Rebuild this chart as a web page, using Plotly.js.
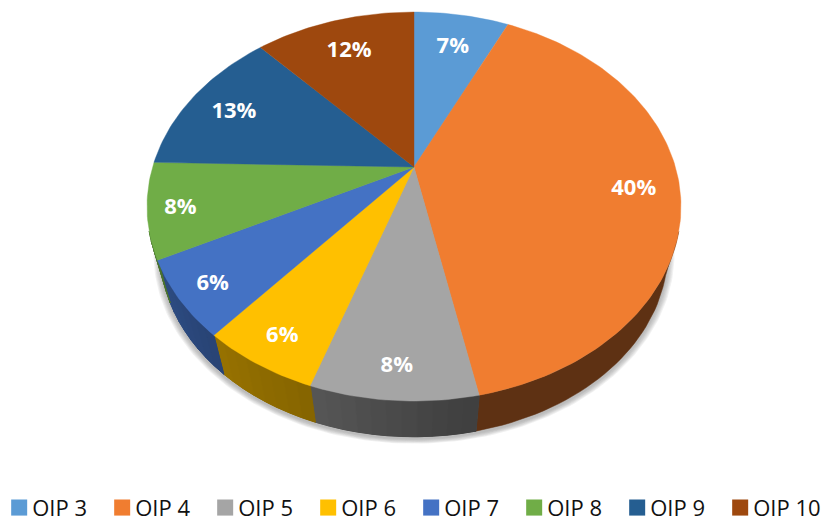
<!DOCTYPE html>
<html>
<head>
<meta charset="utf-8">
<script src="https://cdn.plot.ly/plotly-3.0.1.min.js"></script>
<style>html,body{margin:0;padding:0;background:#fff}#chart{width:824px;height:522px}</style>
</head>
<body>
<div id="chart"></div>
<script>
const categories = ['OIP 3','OIP 4','OIP 5','OIP 6','OIP 7','OIP 8','OIP 9','OIP 10'];
const shares = [7, 39.8, 8.4, 6, 6.3, 7.9, 12.8, 11.8];
const colors = ['#5b9bd5','#f07d30','#a5a5a5','#ffc000','#4472c4','#70ad47','#255e91','#9e480e'];

// Projection of the tilted disc, in pixels
const apex = {x:414, y:167}, A = 261.4, B = 186.5, K = 0.2033;
const project = (th, r) => {
  const u = r*Math.sin(th), v = r*Math.cos(th), w = 1 + K*v;
  return [apex.x + A*u/w, apex.y - B*v/w];
};
const lower = p => [apex.x + 0.95*(p[0]-apex.x), 55.7 + 0.95*p[1]];
const TAU = 2*Math.PI;
const total = shares.reduce((a,b)=>a+b,0);
let acc = 0;
const spans = shares.map(s => { const a = acc/total*TAU; acc += s; return [a, acc/total*TAU]; });
const arc = (a,b,step=0.02) => { const n = Math.max(2,Math.ceil((b-a)/step)), o=[]; for(let i=0;i<=n;i++) o.push(a+(b-a)*i/n); return o; };
const shadeAt = th => th < 3.0 ? 0.39 : th < 3.456 ? 0.39+(th-3)*0.285 : Math.min(0.66, 0.52+(th-3.456)*0.19);
const dark = (hex,f) => { const n=parseInt(hex.slice(1),16); return `rgb(${Math.round((n>>16)*f)},${Math.round(((n>>8)&255)*f)},${Math.round((n&255)*f)})`; };
const poly = (pts,col,lw,extra) => Object.assign({type:'scatter',mode:'lines',fill:'toself',fillcolor:col,
  line:{width:lw,color:col},x:pts.map(p=>p[0]),y:pts.map(p=>p[1]),showlegend:false,hoverinfo:'skip'},extra||{});

const traces = [];
// soft shadow below the rim
for (let i=0;i<6;i++){
  const pts = arc(0,TAU).map(t=>lower(project(t,1)));
  const s = 1 + (6-i)*0.0045, cx=apex.x, cy=253;
  traces.push(poly(pts.map(p=>[cx+(p[0]-cx)*s, cy+(p[1]-cy)*s+2]),'rgba(120,120,120,0.10)',0));
}
// rim: only the part that can show, a base band per slice, then shaded strips where the shade changes
const rimFrom = 1.9, rimTo = TAU-1.9;
spans.forEach((sp,i)=>{
  const from = Math.max(sp[0],rimFrom), to = Math.min(sp[1],rimTo);
  if (to <= from) return;
  const ts = arc(from,to,0.03);
  const mid = (from+to)/2;
  const band = [...ts.map(t=>project(t,1)),...ts.slice().reverse().map(t=>lower(project(t,1)))];
  traces.push(poly([...band,band[0]],dark(colors[i],shadeAt(mid)),0.5));
  if (to > 3.0 && from < 4.9) {
    const st = arc(Math.max(from,2.8),Math.min(to,4.9),0.05);
    for(let j=0;j<st.length-1;j++){
      const a=project(st[j],1), b=project(st[j+1],1), c=lower(b), d=lower(a);
      traces.push(poly([a,b,c,d,a],dark(colors[i],shadeAt((st[j]+st[j+1])/2)),1));
    }
  }
});
// top faces
spans.forEach((sp,i)=>{
  const pts=[project(0,0),...arc(sp[0],sp[1]).map(t=>project(t,1)),project(0,0)];
  traces.push(poly(pts,colors[i],0.4,{name:categories[i],hoverinfo:'name+text',text:Math.round(shares[i])+'%'}));
});
// value labels
const mids = spans.map(s=>(s[0]+s[1])/2);
const labelRadius = t => 0.825-0.04*Math.cos(t) + (Math.cos(t)<0 && Math.sin(t)<0 ? 0.05*Math.pow(-Math.sin(t),3) : 0);
const lab = mids.map(t=>project(t,labelRadius(t)));
traces.push({type:'scatter',mode:'text',x:lab.map(p=>p[0]),y:lab.map(p=>p[1]+4),
  text:shares.map(s=>Math.round(s)+'%'),textposition:'middle center',
  textfont:{family:'"Open Sans", sans-serif',size:22,color:'#fff',weight:700},showlegend:false,hoverinfo:'skip'});
// legend entries
categories.forEach((c,i)=>traces.push({type:'scatter',mode:'markers',x:[null],y:[null],name:c,
  marker:{symbol:'square',size:16,color:colors[i]},hoverinfo:'skip'}));

const layout = {
  width:824,height:522,margin:{l:0,r:0,t:0,b:0,autoexpand:false},paper_bgcolor:'#fff',plot_bgcolor:'#fff',
  xaxis:{range:[0,824],visible:false,fixedrange:true},
  yaxis:{range:[522,0],visible:false,fixedrange:true},
  showlegend:true,
  legend:{orientation:'h',x:-0.001,xanchor:'left',y:-0.013,yanchor:'bottom',entrywidth:58,entrywidthmode:'pixels',
    font:{family:'"Open Sans", sans-serif',size:22,color:'#111'},bgcolor:'rgba(0,0,0,0)',itemclick:false,itemdoubleclick:false}
};
Plotly.newPlot('chart',traces,layout,{displayModeBar:false}).then(()=>{
  // the legend text sits closer to its swatch in this chart
  document.querySelectorAll('.legend text.legendtext').forEach(t=>t.setAttribute('x',+t.getAttribute('x')-7));
});
</script>
</body>
</html>
